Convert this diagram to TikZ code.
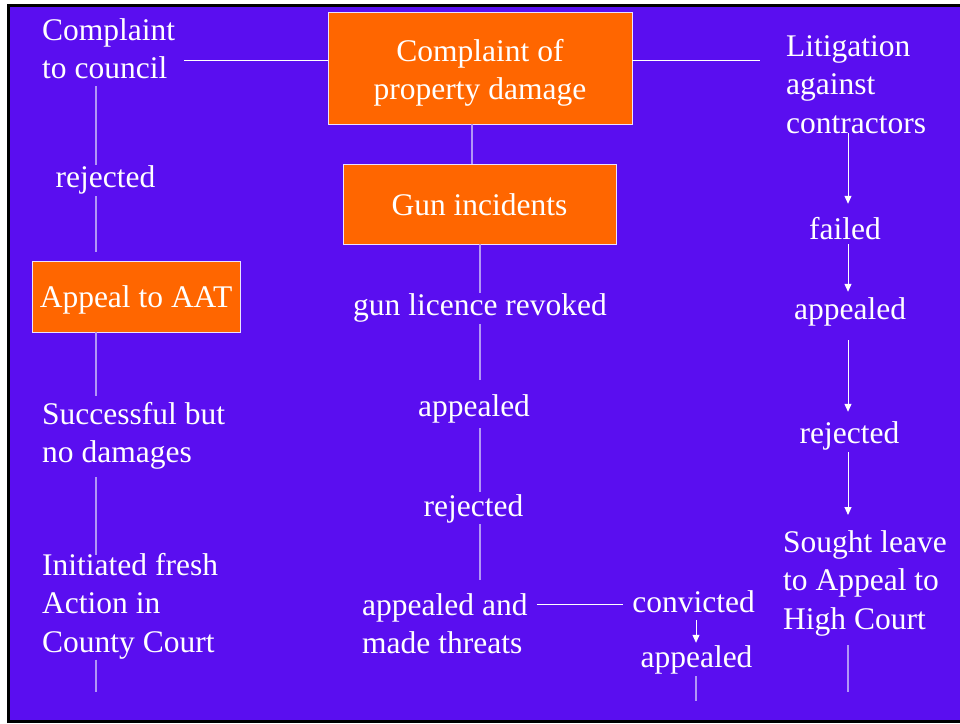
\documentclass[tikz,border=0pt]{standalone}
\usepackage{fontspec}
\setmainfont{Liberation Serif}
\usetikzlibrary{arrows.meta,calc}
\definecolor{bgP}{RGB}{90,14,240}
\definecolor{orangeB}{RGB}{255,102,0}
\definecolor{lav}{RGB}{178,150,246}
\definecolor{boxedge}{RGB}{235,225,255}
\newcommand\bigtxt{\fontsize{31.5}{38.5}\selectfont}
\newcommand\mystrut{\rule[-7pt]{0pt}{29pt}}
\begin{document}
\begin{tikzpicture}[x=1pt,y=-1pt,
 txt/.style={text=white,font=\bigtxt,inner sep=0pt,text height=22pt,text depth=7pt,anchor=base},
 mtxt/.style={text=white,font=\bigtxt,inner sep=0pt,align=left,anchor=north west},
 obox/.style={fill=orangeB,draw=boxedge,line width=0.9pt,inner sep=0pt,text=white,font=\bigtxt,text height=22pt,text depth=0pt},
 vl/.style={draw=lav,line width=1.3pt},
 wl/.style={draw=white,line width=1pt},
 ar/.style={draw=white,line width=1pt,-{Triangle[width=7pt,length=8pt]}},
]
\useasboundingbox (0,0) rectangle (960,723);
\fill[white] (0,0) rectangle (960,723);
\fill[bgP] (10,6) rectangle (960,720);
\draw[black,line width=3pt] (8.5,723) -- (8.5,5) -- (960,5);
\draw[black,line width=3pt] (7,721.5) -- (960,721.5);

% column x positions
\coordinate (cL) at (96,0);
\coordinate (cT) at (472,0);
\coordinate (cC) at (480,0);
\coordinate (cR) at (848,0);

% left column
\node[mtxt] (ctc) at (42,18) {\mystrut Complaint\\to council\mystrut};
\node[txt] (rej1) at (105.5,187) {rejected};
\node[obox,minimum width=208pt,minimum height=71pt] (aat) at (136,296.5) {Appeal to AAT};
\node[mtxt] (succ) at (42,402) {\mystrut Successful but\\no damages\mystrut};
\node[mtxt] (init) at (42,553) {\mystrut Initiated fresh\\Action in\\County Court\mystrut};
\coordinate (initend) at (96,692);

% centre column
\node[obox,minimum width=304pt,minimum height=112pt] (top) at (480,68) {};
\node[mtxt,align=center,anchor=north] (toptxt) at (480,39) {\mystrut Complaint of\\property damage\mystrut};
\node[obox,minimum width=273pt,minimum height=80pt] (gun) at (479.5,204) {Gun incidents};
\node[txt] (glr) at (480,315) {gun licence revoked};
\node[txt] (app1) at (474,416) {appealed};
\node[txt] (rej2) at (473.5,516) {rejected};
\node[mtxt] (amt) at (362,593) {\mystrut appealed and\\made threats\mystrut};
\node[txt] (conv) at (693.5,612) {convicted};
\node[txt] (app2) at (696.5,667) {appealed};
\coordinate (app2end) at (696,701);

% right column
\node[mtxt] (lit) at (786,34) {\mystrut Litigation\\against\\contractors\mystrut};
\node[txt] (fail) at (845,239) {failed};
\node[txt] (app3) at (850,319) {appealed};
\node[txt] (rej3) at (849.5,443) {rejected};
\node[mtxt] (sought) at (783,530) {\mystrut Sought leave\\to Appeal to\\High Court\mystrut};
\coordinate (soughtend) at (848,692);

% top horizontal connectors
\draw[wl,shorten >=9pt] ([yshift=8pt]top.west) -- ([yshift=8pt]top.west -| ctc.east);
\draw[wl,shorten >=26pt] ([yshift=8pt]top.east) -- ([yshift=8pt]top.east -| lit.west);

% left column connectors
\draw[vl] (ctc.south -| cL) -- (rej1.north -| cL);
\draw[vl,shorten <=2pt,shorten >=9pt] (rej1.south -| cL) -- (aat.north -| cL);
\draw[vl,shorten >=6pt] (aat.south -| cL) -- (succ.north -| cL);
\draw[vl,shorten <=7pt,shorten >=-2pt] (succ.south -| cL) -- (init.north -| cL);
\draw[vl] (init.south -| cL) -- (initend);

% centre column connectors
\draw[vl] (top.south -| cT) -- (gun.north -| cT);
\draw[vl] (gun.south -| cC) -- (glr.north -| cC);
\draw[vl,shorten <=2pt,shorten >=14pt] (glr.south -| cC) -- (app1.north -| cC);
\draw[vl,shorten <=5pt,shorten >=2pt] (app1.south -| cC) -- (rej2.north -| cC);
\draw[vl,shorten <=1pt,shorten >=13pt] (rej2.south -| cC) -- (amt.north -| cC);
\draw[wl,shorten <=9pt,shorten >=9pt] (conv.west -| amt.east) -- (conv.west);
\draw[ar,shorten <=1pt,shorten >=2pt] (conv.south -| app2end) -- (app2.north -| app2end);
\draw[vl,shorten <=2pt] (app2.south -| app2end) -- (app2end);

% right column connectors
\draw[ar,shorten <=-7pt,shorten >=13pt] (lit.south -| cR) -- (fail.north -| cR);
\draw[ar,shorten <=-2pt,shorten >=5pt] (fail.south -| cR) -- (app3.north -| cR);
\draw[ar,shorten <=14pt,shorten >=9pt] (app3.south -| cR) -- (rej3.north -| cR);
\draw[ar,shorten <=2pt,shorten >=15pt] (rej3.south -| cR) -- (sought.north -| cR);
\draw[vl,shorten <=9pt] (sought.south -| cR) -- (soughtend);
\end{tikzpicture}
\end{document}
